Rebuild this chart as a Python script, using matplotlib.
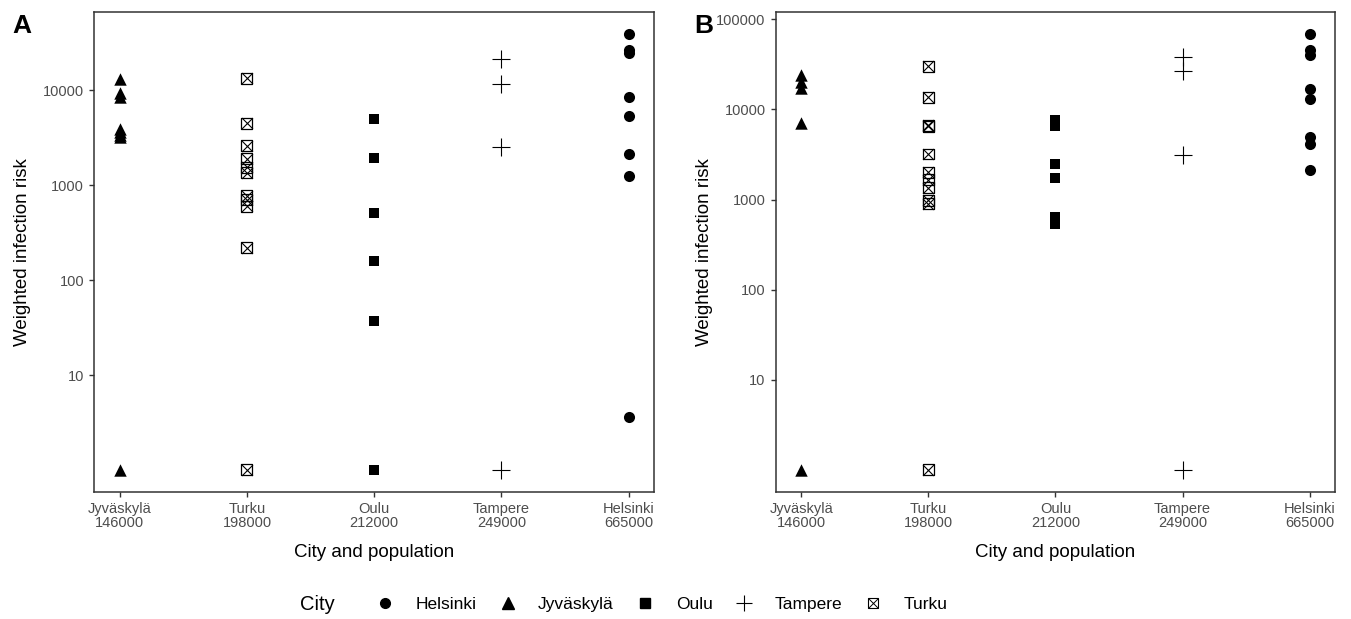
import numpy as np
import matplotlib
matplotlib.use('Agg')
import matplotlib.pyplot as plt
from matplotlib.lines import Line2D
from matplotlib.ticker import FixedLocator, NullLocator

plt.rcParams['font.family'] = ['Liberation Sans', 'DejaVu Sans']

# x categories (in plotting order) and their populations
cities = ['Jyväskylä', 'Turku', 'Oulu', 'Tampere', 'Helsinki']
population = [146000, 198000, 212000, 249000, 665000]
legend_order = ['Helsinki', 'Jyväskylä', 'Oulu', 'Tampere', 'Turku']

# panel A values (weighted infection risk)
jyvaskyla_a = [13300, 9400, 8600, 3900, 3600, 3400, 3200, 1]
turku_a = [13500, 4500, 2600, 1900, 1550, 1350, 780, 700, 600, 220, 1]
oulu_a = [4950, 1950, 515, 160, 37, 1]
tampere_a = [21500, 11800, 2550, 1]
helsinki_a = [39500, 26500, 24500, 8500, 5400, 2150, 1250, 3.6]

# panel B values
jyvaskyla_b = [24000, 20000, 17500, 7000, 1]
turku_b = [30000, 13700, 6700, 6500, 3200, 2000, 1650, 1350, 980, 900, 1]
oulu_b = [7600, 6500, 2500, 1750, 640, 540]
tampere_b = [38000, 26500, 3100, 1]
helsinki_b = [69000, 46000, 40000, 17000, 13000, 4900, 4100, 2150]

yticks_a = [10, 100, 1000, 10000]
yticks_b = [10, 100, 1000, 10000, 100000]

panel_a = {'Jyväskylä': jyvaskyla_a, 'Turku': turku_a, 'Oulu': oulu_a,
           'Tampere': tampere_a, 'Helsinki': helsinki_a}
panel_b = {'Jyväskylä': jyvaskyla_b, 'Turku': turku_b, 'Oulu': oulu_b,
           'Tampere': tampere_b, 'Helsinki': helsinki_b}

DARK = '#333333'
GREY = '#4D4D4D'


def draw_city(ax, xpos, vals, city):
    x = np.full(len(vals), xpos)
    if city == 'Helsinki':
        ax.scatter(x, vals, marker='o', s=64, c='black', linewidths=0)
    elif city == 'Jyväskylä':
        ax.scatter(x, vals, marker='^', s=80, c='black', linewidths=0)
    elif city == 'Oulu':
        ax.scatter(x, vals, marker='s', s=54, c='black', linewidths=0)
    elif city == 'Tampere':
        ax.scatter(x, vals, marker='+', s=150, c='black', linewidths=0.8)
    else:
        ax.scatter(x, vals, marker='s', s=62, facecolors='none',
                   edgecolors='black', linewidths=0.9)
        ax.scatter(x, vals, marker='x', s=62, c='black', linewidths=0.8)


def make_panel(ax, data, yticks, letter):
    xpos = np.arange(1, len(cities) + 1)
    for i, c in enumerate(cities):
        draw_city(ax, xpos[i], data[c], c)
    ax.set_yscale('log')
    allv = np.concatenate([np.array(v, dtype=float) for v in data.values()])
    lo, hi = np.log10(allv.min()), np.log10(allv.max())
    pad = 0.05 * (hi - lo)
    ax.set_ylim(10 ** (lo - pad), 10 ** (hi + pad))
    ax.set_xlim(0.8, 5.2)
    ax.yaxis.set_major_locator(FixedLocator(yticks))
    ax.yaxis.set_minor_locator(NullLocator())
    ax.set_yticklabels([str(t) for t in yticks])
    ax.set_xticks(xpos)
    ax.set_xticklabels([f'{c}\n{p}' for c, p in zip(cities, population)],
                       linespacing=1.05)
    ax.tick_params(direction='out', length=3.8, width=1.0, color=DARK,
                   labelcolor=GREY, labelsize=10.5, pad=3.5)
    for sp in ax.spines.values():
        sp.set_color(DARK)
        sp.set_linewidth(1.1)
    ax.set_xlabel('City and population', fontsize=13.5)
    ax.set_ylabel('Weighted infection risk', fontsize=13.5)
    ax.yaxis.set_label_coords(-0.113, 0.5)
    ax.xaxis.set_label_coords(0.5, -0.11)
    ax.text(-0.146, 0.996, letter, transform=ax.transAxes, fontsize=19,
            fontweight='bold', va='top', ha='left')


fig = plt.figure(figsize=(13.51, 6.19), dpi=100)
ax_a = fig.add_axes([0.0698, 0.2057, 0.4143, 0.7749])
ax_b = fig.add_axes([0.5742, 0.2057, 0.4140, 0.7749])
make_panel(ax_a, panel_a, yticks_a, 'A')
make_panel(ax_b, panel_b, yticks_b, 'B')

# legend
handles = []
for c in legend_order:
    if c == 'Helsinki':
        h = Line2D([], [], marker='o', ls='none', color='black', markersize=7)
    elif c == 'Jyväskylä':
        h = Line2D([], [], marker='^', ls='none', color='black', markersize=8)
    elif c == 'Oulu':
        h = Line2D([], [], marker='s', ls='none', color='black', markersize=7)
    elif c == 'Tampere':
        h = Line2D([], [], marker='+', ls='none', color='black', markersize=12,
                   markeredgewidth=0.8)
    else:
        h = (Line2D([], [], marker='s', ls='none', markerfacecolor='none',
                    markeredgecolor='black', markersize=7.5, markeredgewidth=0.8),
             Line2D([], [], marker='x', ls='none', color='black', markersize=7.5,
                    markeredgewidth=0.7))
    handles.append(h)

fig.legend(handles, legend_order, loc='center', bbox_to_anchor=(0.49, 0.024),
           ncol=5, frameon=False, fontsize=12.5, handlelength=1.0,
           handletextpad=1.25, columnspacing=1.3)
fig.text(0.222, 0.024, 'City', fontsize=14.5, va='center', ha='left')

fig.savefig('out.png', dpi=100)
